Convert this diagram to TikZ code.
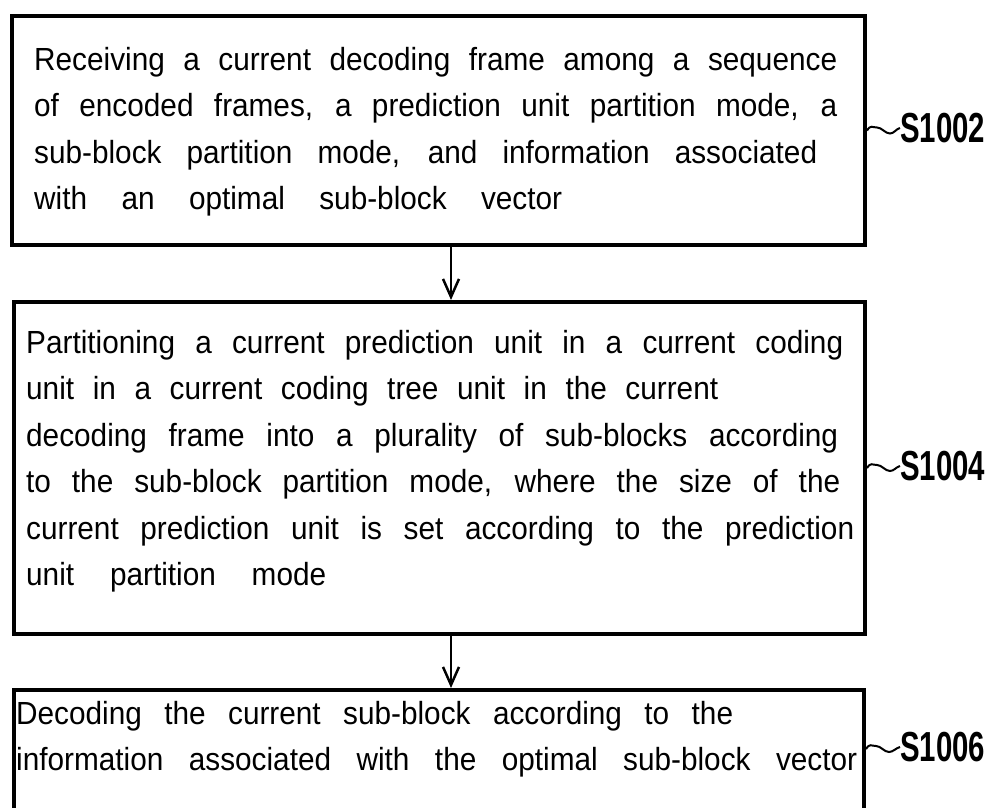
\documentclass[tikz,border=0pt]{standalone}
\usepackage{fontspec}
\setmainfont[FakeStretch=0.93,WordSpace=1.8]{Liberation Sans}
\newfontfamily\labfont[FakeStretch=0.7]{Liberation Sans}
\usetikzlibrary{arrows.meta}
\newcommand{\tline}[2]{\makebox[#1pt][s]{#2}}
\begin{document}
\begin{tikzpicture}[x=1pt,y=-1pt,
  box/.style={draw, line width=4pt, rectangle, inner sep=0pt, anchor=north west},
  body/.style={anchor=north west, inner sep=0pt, align=left, font=\fontsize{32}{46.5}\selectfont},
  lab/.style={anchor=west, inner sep=0pt, font=\labfont\bfseries\fontsize{42}{42}\selectfont},
  arr/.style={line width=2.5pt, -{Straight Barb[length=18pt,width=16pt]}},
  wave/.style={line width=2pt}]
\useasboundingbox (0,0) rectangle (993,808);
% boxes
\node[box, minimum width=853pt, minimum height=229pt] (b1) at (10,14) {};
\node[box, minimum width=851pt, minimum height=332pt] (b2) at (12,300) {};
\node[box, minimum width=850pt, minimum height=140pt] (b3) at (12,688) {};
% texts
\node[body] (t1) at (34,47) {%
\tline{803}{Receiving a current decoding frame among a sequence}\\
\tline{803}{of encoded frames, a prediction unit partition mode, a}\\
\tline{783}{sub-block partition mode, and information associated}\\
\tline{528}{with an optimal sub-block vector}};
\node[body] (t2) at (26,330) {%
\tline{817}{Partitioning a current prediction unit in a current coding}\\
\tline{692}{unit in a current coding tree unit in the current}\\
\tline{812}{decoding frame into a plurality of sub-blocks according}\\
\tline{814}{to the sub-block partition mode, where the size of the}\\
\tline{828}{current prediction unit is set according to the prediction}\\
\tline{300}{unit partition mode}};
\node[body] (t3) at (16,701) {%
\tline{717}{Decoding the current sub-block according to the}\\
\tline{841}{information associated with the optimal sub-block vector}};
% labels
\node[lab] (l1) at (900,128) {S1002};
\node[lab] (l2) at (900,466) {S1004};
\node[lab] (l3) at (900,747) {S1006};
\coordinate (e3) at ([yshift=11pt]b3.east);
% arrows
\draw[arr] ([xshift=12.5pt]b1.south) -- ([xshift=12.5pt]b1.south |- b2.north);
\draw[arr] ([xshift=11.5pt]b2.south) -- ([xshift=11.5pt]b2.south |- b3.north);
% waves
\draw[wave] (b1.east) .. controls +(4,-6) and +(-5,0) .. ++(10,-3) .. controls +(5,0) and +(-5,0) .. ++(13,6) .. controls +(4,0) and +(-4,1) .. (l1.west);
\draw[wave] (b2.east) .. controls +(4,-6) and +(-5,0) .. ++(10,-3) .. controls +(5,0) and +(-5,0) .. ++(13,6) .. controls +(4,0) and +(-4,1) .. (l2.west);
\draw[wave] (e3) .. controls +(4,-6) and +(-5,0) .. ++(10,-3) .. controls +(5,0) and +(-5,0) .. ++(13,6) .. controls +(4,0) and +(-4,1) .. (l3.west);
\end{tikzpicture}
\end{document}
